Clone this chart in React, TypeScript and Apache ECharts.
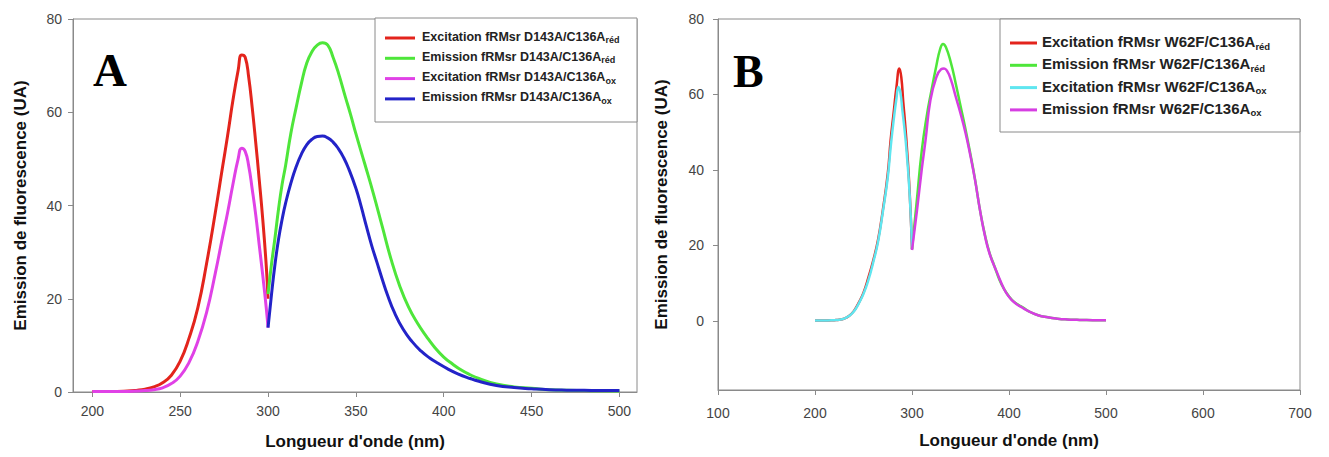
import { useEffect, useRef } from "react";
import * as echarts from "echarts";

// ---------- Panel A data ----------
const xTicksA = [200, 250, 300, 350, 400, 450, 500];
const yTicksA = [0, 20, 40, 60, 80];

const excRedA: [number, number][] = [
  [200, 0.1], [210, 0.1], [220, 0.2], [225, 0.35], [230, 0.6], [235, 1.1], [240, 2.0], [245, 3.6], [250, 6.6],
  [255, 11.5], [260, 18], [265, 27.5], [270, 38.5], [274, 48], [277, 55], [280, 62.5], [283, 69], [285, 72.3],
  [287, 71.8], [289, 67.5], [291, 61], [293, 53.5], [295, 45.5], [297, 37], [299, 27], [300, 20],
];
const emRedA: [number, number][] = [
  [300, 21], [302, 27.5], [304, 33.2], [306, 39.3], [308, 44.5], [310, 48.6], [313, 55.5], [316, 61], [319, 66.2],
  [322, 70.5], [325, 73], [328, 74.4], [331, 74.9], [334, 74.4], [337, 71.8], [340, 68.5], [344, 63.3], [347, 59.5],
  [350, 55.4], [355, 49], [360, 42.5], [365, 35.5], [370, 28.5], [375, 22.7], [380, 18.2], [385, 14.8], [390, 12],
  [395, 9.5], [400, 7.5], [405, 6.0], [410, 4.7], [415, 3.7], [420, 2.9], [430, 1.7], [440, 1.1], [450, 0.8],
  [460, 0.5], [470, 0.35], [480, 0.3], [490, 0.25], [500, 0.2],
];
const excOxA: [number, number][] = [
  [200, 0.1], [210, 0.1], [220, 0.1], [230, 0.3], [235, 0.5], [240, 0.9], [245, 1.8], [250, 3.4], [255, 6.3],
  [260, 10.8], [265, 17], [270, 25.5], [274, 33], [277, 38.5], [280, 44.5], [283, 50], [285, 52.3], [287, 51.6],
  [289, 48.5], [291, 43.5], [293, 38], [295, 31.5], [297, 25], [299, 18], [300, 13.8],
];
const emOxA: [number, number][] = [
  [300, 13.8], [302, 21], [304, 27.5], [306, 32.8], [308, 37], [310, 40.5], [313, 44.8], [316, 48.3], [319, 51],
  [322, 53], [325, 54.2], [328, 54.8], [331, 54.9], [334, 54.5], [337, 53.6], [340, 52.2], [343, 50.3], [346, 47.8],
  [350, 43.7], [353, 39.8], [356, 35.5], [359, 31.4], [362, 27.8], [365, 24.2], [368, 20.8], [372, 17], [377, 13.4],
  [382, 10.8], [387, 8.8], [392, 7.3], [397, 6.1], [402, 5], [408, 3.9], [415, 2.9], [420, 2.3], [430, 1.4],
  [440, 0.95], [450, 0.7], [460, 0.5], [470, 0.4], [480, 0.35], [490, 0.3], [500, 0.3],
];
const legendNamesA = [
  "Excitation fRMsr D143A/C136A",
  "Emission fRMsr D143A/C136A",
  "Excitation fRMsr D143A/C136A",
  "Emission fRMsr D143A/C136A",
];
const legendSubsA = ["réd", "réd", "ox", "ox"];
const colorsA = ["#e3241c", "#4ee63a", "#e041e6", "#2323c8"];

// ---------- Panel B data ----------
const yTicksB = [0, 20, 40, 60, 80];

const excRedB: [number, number][] = [
  [200, 0.1], [210, 0.1], [220, 0.2], [225, 0.3], [230, 0.6], [235, 1.3], [240, 2.6], [245, 4.8], [250, 7.5],
  [255, 11.5], [260, 16], [265, 21.5], [270, 29.5], [275, 39], [278, 48], [281, 55], [284, 62], [287, 66.9],
  [289, 64.5], [291, 58], [293, 52], [295, 45], [297, 37], [299, 26], [300, 19],
];
const emRedB: [number, number][] = [
  [300, 19], [305, 32], [310, 45], [315, 54], [320, 61], [325, 67.5], [329, 72], [332, 73.4], [335, 72.5],
  [340, 68.5], [345, 63], [350, 57], [355, 51], [360, 44.5], [365, 37.5], [370, 29.5], [375, 23], [380, 18],
  [385, 14.5], [390, 11], [395, 8.4], [400, 6.5], [405, 5.1], [410, 4.2], [415, 3.5], [420, 2.6], [430, 1.5],
  [440, 0.95], [450, 0.6], [460, 0.4], [470, 0.3], [480, 0.22], [490, 0.18], [500, 0.15],
];
const excOxB: [number, number][] = [
  [200, 0.1], [210, 0.1], [220, 0.2], [225, 0.3], [230, 0.6], [235, 1.3], [240, 2.5], [245, 4.6], [250, 7.2],
  [255, 10.8], [260, 15.5], [265, 21], [270, 29], [275, 38], [278, 46], [281, 53], [284, 59], [286, 62],
  [288, 60.5], [290, 56], [293, 49], [295, 43], [297, 36], [299, 26], [300, 19],
];
const emOxB: [number, number][] = [
  [300, 18.8], [305, 29], [310, 40], [314, 48], [319, 58.5], [325, 64.5], [330, 66.7], [333, 66.9], [336, 66.3],
  [340, 64], [345, 59.5], [350, 55], [355, 50], [360, 44], [365, 37.3], [370, 29.5], [375, 22.8], [380, 17.8],
  [388, 12.6], [395, 8.4], [400, 6.4], [405, 5], [415, 3.3], [420, 2.6], [430, 1.5], [440, 0.95], [450, 0.6],
  [460, 0.4], [470, 0.3], [480, 0.22], [490, 0.18], [500, 0.15],
];
const legendNamesB = [
  "Excitation fRMsr W62F/C136A",
  "Emission fRMsr W62F/C136A",
  "Excitation fRMsr W62F/C136A",
  "Emission fRMsr W62F/C136A",
];
const legendSubsB = ["réd", "réd", "ox", "ox"];
const colorsB = ["#e3241c", "#4ee63a", "#5fe6f0", "#d63ee2"];

const FONT = "'Liberation Sans', Arial, Helvetica, sans-serif";
const SERIF = "'Liberation Serif', 'Times New Roman', serif";

function legendGraphic(
  left: number, top: number, w: number, h: number,
  names: string[], subs: string[], colors: string[],
  firstRow: number, rowGap: number, lineX: number, lineW: number, textX: number,
  fontSize: number, subSize: number
) {
  const children: any[] = [
    { type: "rect", shape: { x: left, y: top, width: w, height: h }, style: { fill: "#fff", stroke: "#8a8a8a", lineWidth: 1 } },
  ];
  names.forEach((n, i) => {
    const y = firstRow + i * rowGap;
    children.push({
      type: "line",
      shape: { x1: lineX, y1: y, x2: lineX + lineW, y2: y },
      style: { stroke: colors[i], lineWidth: 3 },
    });
    children.push({
      type: "text",
      x: textX,
      y: y - Math.round(fontSize * 0.6),
      style: {
        text: `{m|${n}}{s|${subs[i]}}`,
        rich: {
          m: { fontSize, fontWeight: "bold", fontFamily: FONT, fill: "#222", lineHeight: fontSize + 2, verticalAlign: "top" },
          s: { fontSize: subSize, fontWeight: "bold", fontFamily: FONT, fill: "#222", lineHeight: subSize, padding: [Math.round(fontSize * 0.8), 0, 0, 0], verticalAlign: "bottom" },
        },
      },
    });
  });
  return { type: "group", children };
}

export default function App() {
  const ref = useRef<HTMLDivElement>(null);
  useEffect(() => {
    if (!ref.current) return;
    const chart = echarts.init(ref.current, undefined, { renderer: "svg" });
    const axisLabel = { color: "#444", fontSize: 14, fontFamily: FONT };
    const axisLine = { show: true, onZero: false, lineStyle: { color: "#8a8a8a", width: 1 } };
    const axisTick = { show: true, length: 5, lineStyle: { color: "#8a8a8a" } };
    const nameStyle = { fontWeight: "bold", fontSize: 17, color: "#111", fontFamily: FONT };
    const line = (name: string, data: [number, number][], color: string, idx: number, width: number) => ({
      type: "line",
      name,
      xAxisIndex: idx,
      yAxisIndex: idx,
      data,
      showSymbol: false,
      symbol: "none",
      smooth: 0.5,
      lineStyle: { color, width },
      itemStyle: { color },
    });
    chart.setOption({
      animation: false,
      backgroundColor: "#fff",
      grid: [
        { left: 73, top: 19, width: 564, height: 373, show: true, borderColor: "#8a8a8a", borderWidth: 1 },
        { left: 718, top: 19, width: 582, height: 371, show: true, borderColor: "#8a8a8a", borderWidth: 1 },
      ],
      xAxis: [
        {
          type: "value", gridIndex: 0, min: 189, max: 510,
          axisLine, axisTick: { ...axisTick, customValues: xTicksA },
          axisLabel: { ...axisLabel, margin: 12, customValues: xTicksA },
          splitLine: { show: false },
          name: "Longueur d'onde (nm)", nameLocation: "middle", nameGap: 41, nameTextStyle: nameStyle,
        },
        {
          type: "value", gridIndex: 1, min: 100, max: 700, interval: 100,
          axisLine, axisTick,
          axisLabel: { ...axisLabel, margin: 16 },
          splitLine: { show: false },
          name: "Longueur d'onde (nm)", nameLocation: "middle", nameGap: 42, nameTextStyle: nameStyle,
        },
      ],
      yAxis: [
        {
          type: "value", gridIndex: 0, min: 0, max: 80,
          axisLine, axisTick: { ...axisTick, customValues: yTicksA },
          axisLabel: { ...axisLabel, margin: 11, customValues: yTicksA },
          splitLine: { show: false },
          name: "Emission de fluorescence (UA)", nameLocation: "middle", nameGap: 44, nameTextStyle: nameStyle,
        },
        {
          type: "value", gridIndex: 1, min: -18.3, max: 80,
          axisLine, axisTick: { ...axisTick, customValues: yTicksB },
          axisLabel: { ...axisLabel, margin: 14, customValues: yTicksB },
          splitLine: { show: false },
          name: "Emission de fluorescence (UA)", nameLocation: "middle", nameGap: 48, nameTextStyle: nameStyle,
        },
      ],
      series: [
        line("excRedA", excRedA, colorsA[0], 0, 3),
        line("emRedA", emRedA, colorsA[1], 0, 3),
        line("excOxA", excOxA, colorsA[2], 0, 3),
        line("emOxA", emOxA, colorsA[3], 0, 3),
        line("excRedB", excRedB, colorsB[0], 1, 2.5),
        line("emRedB", emRedB, colorsB[1], 1, 2.5),
        line("excOxB", excOxB, colorsB[2], 1, 2.5),
        line("emOxB", emOxB, colorsB[3], 1, 2.5),
      ],
      graphic: [
        legendGraphic(375, 18, 262, 104, legendNamesA, legendSubsA, colorsA, 38, 20.3, 385, 30, 422, 12.5, 9),
        legendGraphic(1000, 19, 300, 113, legendNamesB, legendSubsB, colorsB, 43, 22.3, 1010, 27, 1042, 15, 9.5),
        { type: "text", x: 93, y: 70, style: { text: "A", fontFamily: SERIF, fontWeight: "bold", fontSize: 47, fill: "#000", verticalAlign: "middle" } },
        { type: "text", x: 733, y: 71, style: { text: "B", fontFamily: SERIF, fontWeight: "bold", fontSize: 46, fill: "#000", verticalAlign: "middle" } },
      ],
    });
    return () => chart.dispose();
  }, []);
  return <div ref={ref} style={{ position: "absolute", left: 0, top: 0, width: 1329, height: 457 }} />;
}
